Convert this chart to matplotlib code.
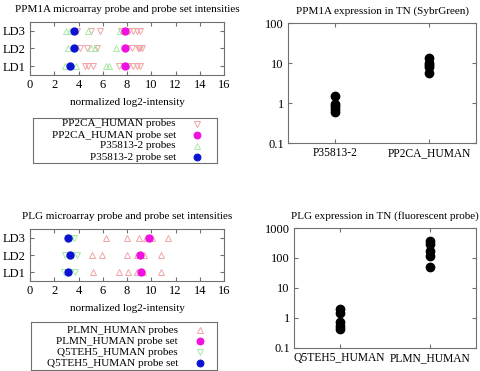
import matplotlib
matplotlib.use('Agg')
import matplotlib.pyplot as plt
import numpy as np

plt.rcParams['font.family'] = 'Liberation Serif'
plt.rcParams['font.size'] = 8

rows = ['LD1', 'LD2', 'LD3']

# PPM1A microarray (top left)
pp2ca_probes = [[4.5, 4.8, 5.2, 7.3, 7.8, 8.1, 8.5, 8.8, 9.1],
                [4.1, 4.7, 5.5, 7.9, 8.4, 8.9, 9.0, 9.1, 9.2],
                [3.9, 5.0, 5.8, 7.5, 7.9, 8.2, 8.5, 8.8, 9.1]]
pp2ca_set = [7.8, 7.8, 7.8]
p358_probes = [[2.9, 3.8, 6.3, 6.5],
               [3.1, 5.0, 5.4, 7.1],
               [3.0, 3.3, 4.8, 7.4]]
p358_set = [3.3, 3.6, 3.6]

# PLG microarray (bottom left)
plmn_probes = [[5.2, 7.3, 8.1, 8.8, 9.3, 10.8],
               [5.1, 5.9, 8.0, 8.8, 9.4, 10.8],
               [6.3, 8.0, 9.0, 9.6, 10.1, 11.4]]
plmn_set = [9.15, 9.05, 9.8]
q5_probes = [[2.8, 3.3, 3.7],
             [2.9, 3.4, 3.9],
             [3.1, 3.4, 3.6]]
q5_set = [3.15, 3.3, 3.15]

# qPCR expression (right)
ppm1a_names = ['P35813-2', 'PP2CA_HUMAN']
ppm1a_expr = [[1.5, 0.95, 0.83, 0.72, 0.6],
              [13, 10, 8.7, 7.8, 5.6]]
plg_names = ['Q5TEH5_HUMAN', 'PLMN_HUMAN']
plg_expr = [[2.05, 1.5, 0.74, 0.54, 0.44],
            [380, 300, 165, 120, 52]]

pink = '#f0a4a4'
green = '#a8e8a8'
magenta = '#f010e0'
blue = '#0a14d0'
framec = '#707070'

fig = plt.figure(figsize=(4.81, 3.71), dpi=100)
W, H = 481.0, 371.0

def ax_at(x0, y0, x1, y1):
    return fig.add_axes([x0 / W, 1 - y1 / H, (x1 - x0) / W, (y1 - y0) / H])

def style(ax):
    for s in ax.spines.values():
        s.set_color(framec)
        s.set_linewidth(0.8)
    ax.tick_params(direction='in', color=framec, top=True, right=True, length=3, pad=3)
    ax.tick_params(which='minor', direction='in', color=framec, top=True, right=True, length=1.5)

def microarray(ax, probesA, setA, markA, probesB, setB, markB, title):
    for i in range(3):
        y = i + 1
        ax.plot(probesA[i], [y] * len(probesA[i]), linestyle='none', marker=markA,
                mfc='none', mec=pink, ms=4.8, mew=0.7)
        ax.plot(probesB[i], [y] * len(probesB[i]), linestyle='none', marker=markB,
                mfc='none', mec=green, ms=4.8, mew=0.7)
    ax.plot(setA, [1, 2, 3], linestyle='none', marker='o', color=magenta, ms=5)
    ax.plot(setB, [1, 2, 3], linestyle='none', marker='o', color=blue, ms=5)
    ax.set_xlim(0, 16)
    ax.set_ylim(0.5, 3.5)
    ax.set_xticks(np.arange(0, 17, 2))
    ax.set_yticks([1, 2, 3])
    ax.set_yticklabels(rows, fontsize=9)
    ax.tick_params(axis='x', labelsize=9)
    style(ax)
    ax.set_title(title, fontsize=8, pad=7)
    ax.set_xlabel('normalized log2-intensity', fontsize=8, labelpad=5)

def legend_box(x0, y0, x1, y1, labels, markers):
    lax = ax_at(x0, y0, x1, y1)
    lax.set_xlim(x0, x1)
    lax.set_ylim(y1, y0)
    lax.set_xticks([])
    lax.set_yticks([])
    for s in lax.spines.values():
        s.set_color(framec)
        s.set_linewidth(0.8)
    for (lab, yy, tx, mx), (m, fc, ec) in zip(labels, markers):
        lax.text(tx, yy, lab, ha='right', va='center', fontsize=8)
        lax.plot([mx], [yy], marker=m, mfc=fc, mec=ec, ms=5 if fc != 'none' else 4.8,
                 mew=0.7, linestyle='none')

def expression(ax, names, vals, ylim, ticks, ticklabels, title):
    for i, v in enumerate(vals):
        ax.plot([i + 1] * len(v), v, linestyle='none', marker='o', color='black', ms=6)
    ax.set_yscale('log')
    ax.set_ylim(*ylim)
    ax.set_xlim(0.5, 2.5)
    ax.set_xticks([1, 2])
    ax.set_xticklabels(names, fontsize=8.3)
    ax.set_yticks(ticks)
    ax.set_yticklabels(ticklabels, fontsize=9)
    ax.minorticks_off()
    style(ax)
    ax.set_title(title, fontsize=8, pad=7)

ax1 = ax_at(30, 22, 224, 75)
microarray(ax1, pp2ca_probes, pp2ca_set, 'v', p358_probes, p358_set, '^',
           'PPM1A microarray probe and probe set intensities')
legend_box(33, 118, 217, 163,
           [('PP2CA_HUMAN probes', 124, 176, 197),
            ('PP2CA_HUMAN probe set', 135, 176, 197),
            ('P35813-2 probes', 146, 176, 197),
            ('P35813-2 probe set', 157, 176, 197)],
           [('v', 'none', pink), ('o', magenta, magenta), ('^', 'none', green), ('o', blue, blue)])

ax3 = ax_at(30, 229, 224, 281)
microarray(ax3, plmn_probes, plmn_set, '^', q5_probes, q5_set, 'v',
           'PLG microarray probe and probe set intensities')
legend_box(31, 322, 217, 370,
           [('PLMN_HUMAN probes', 330.5, 178, 200),
            ('PLMN_HUMAN probe set', 341.5, 178, 200),
            ('Q5TEH5_HUMAN probes', 352.5, 178, 200),
            ('Q5TEH5_HUMAN probe set', 363.5, 178, 200)],
           [('^', 'none', pink), ('o', magenta, magenta), ('v', 'none', green), ('o', blue, blue)])

ax2 = ax_at(288, 23, 476, 143)
expression(ax2, ppm1a_names, ppm1a_expr, (0.1, 100), [0.1, 1, 10, 100],
           ['0.1', '1', '10', '100'], 'PPM1A expression in TN (SybrGreen)')

ax4 = ax_at(294, 228, 476, 348)
expression(ax4, plg_names, plg_expr, (0.1, 1000), [0.1, 1, 10, 100, 1000],
           ['0.1', '1', '10', '100', '1000'], 'PLG expression in TN (fluorescent probe)')

fig.savefig('out.png', dpi=100)
